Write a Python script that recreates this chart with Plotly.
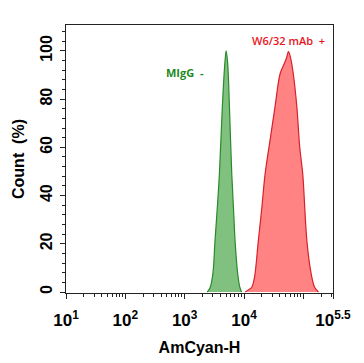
import plotly.graph_objects as go

# Data (intensity, % of max count)
migg_x = [2400, 2700, 3000, 3240, 3550, 3850, 4320, 4700, 5000, 5300, 5680, 6220, 6700, 7080, 7800, 8500, 9100]
migg_y = [0, 2, 8, 21, 35, 49, 77, 93, 100, 95, 77, 49, 33, 21, 8, 2, 0]

w632_x = [10500, 12000, 13500, 15000, 17400, 20000, 22700, 27500, 33400, 40700, 47900, 52000, 56200,
          61000, 67600, 77600, 87000, 97700, 115000, 135000, 155000, 180000]
w632_y = [0, 1, 2, 6, 21, 35, 49, 63, 77, 90.6, 94.8, 97, 99.7,
          97, 90.6, 77, 60, 49, 21, 7.8, 2, 0]

x_tickvals = [10, 100, 1000, 10000, 100000, 316228]
x_ticktext = ["10<sup>1</sup>", "10<sup>2</sup>", "10<sup>3</sup>", "10<sup>4</sup>", " ", "10<sup>5.5</sup>"]
x_minor = [m * 10 ** e for e in range(1, 6) for m in range(2, 10) if m * 10 ** e < 316228]

y_tickvals = [0, 20, 40, 60, 80, 100]

fig = go.Figure()
fig.add_trace(go.Scatter(x=migg_x, y=migg_y, mode="lines", fill="tozeroy", line_shape="spline",
                         line=dict(color="#2a8a2a", width=1.2), fillcolor="rgba(60,160,60,0.65)",
                         showlegend=False))
fig.add_trace(go.Scatter(x=w632_x, y=w632_y, mode="lines", fill="tozeroy", line_shape="spline",
                         line=dict(color="#d8202a", width=1.2), fillcolor="rgba(255,100,100,0.8)",
                         showlegend=False))

axis_font = dict(family="Liberation Sans, Arial", size=16, color="black", weight=700)
xtick_font = dict(family="Liberation Sans, Arial", size=17, color="black", weight=700)

fig.update_layout(
    width=356, height=355,
    margin=dict(l=58, r=31, t=17, b=70),
    paper_bgcolor="white", plot_bgcolor="white",
    xaxis=dict(type="log", range=[1, 5.5], tickmode="array", tickvals=x_tickvals, ticktext=x_ticktext,
               automargin=False, ticklabelstandoff=7,
               showline=True, linecolor="#222", linewidth=1, mirror=True, showgrid=False, zeroline=False,
               ticks="outside", ticklen=5, tickcolor="#222", tickfont=xtick_font,
               minor=dict(tickmode="array", tickvals=x_minor, ticks="outside", ticklen=3, tickcolor="#222"),
               title=dict(text="AmCyan-H", font=axis_font, standoff=12)),
    yaxis=dict(range=[-0.4, 110.7], tickmode="array", tickvals=y_tickvals, tickangle=-90,
               automargin=False, ticklabelstandoff=2,
               showline=True, linecolor="#222", linewidth=1, mirror=True, showgrid=False, zeroline=False,
               ticks="outside", ticklen=5, tickcolor="#222", tickfont=axis_font,
               minor=dict(dtick=4, ticks="outside", ticklen=3, tickcolor="#222"),
               title=dict(text="Count  (%)", font=axis_font, standoff=8)),
    annotations=[
        dict(text="MIgG  -", xref="paper", yref="paper", x=0.444, y=0.821, showarrow=False,
             xanchor="center", yanchor="middle",
             font=dict(family="Open Sans", size=11, color="#1e8a1e", weight=700)),
        dict(text="W6/32 mAb  +", xref="paper", yref="paper", x=0.833, y=0.944, showarrow=False,
             xanchor="center", yanchor="middle",
             font=dict(family="Open Sans", size=11, color="#e8141e", weight=600)),
    ],
)

fig.write_html("out.html")
